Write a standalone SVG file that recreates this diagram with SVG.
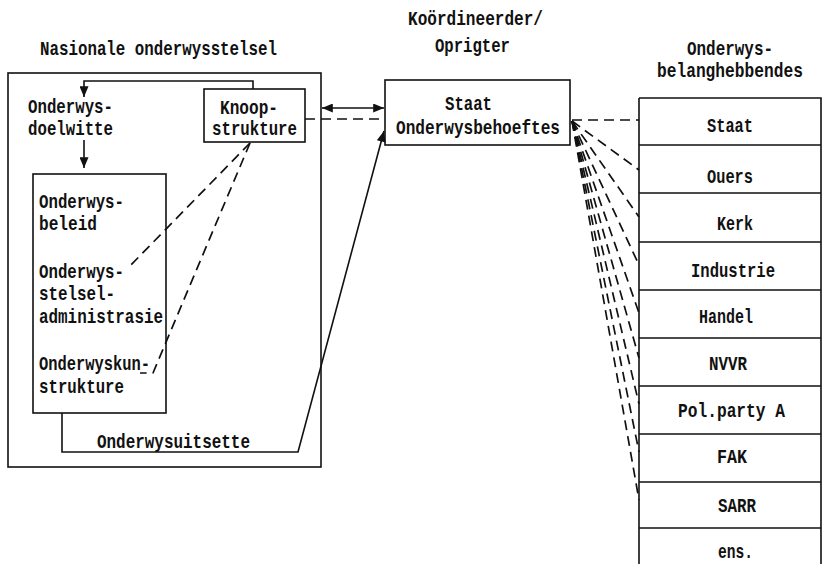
<svg xmlns="http://www.w3.org/2000/svg" width="823" height="564" viewBox="0 0 823 564">
<style>
text{font-family:"Liberation Mono","DejaVu Sans Mono",monospace;font-size:21px;font-weight:bold;fill:#111;}
.box{fill:none;stroke:#111;stroke-width:1.6;}
.ln{fill:none;stroke:#111;stroke-width:1.6;}
.dash{fill:none;stroke:#111;stroke-width:1.7;stroke-dasharray:10 6;}
</style>
<defs>
<marker id="ah" viewBox="0 0 12 10" refX="12" refY="5" markerWidth="12" markerHeight="9" markerUnits="userSpaceOnUse" orient="auto-start-reverse">
<path d="M0,0 L12,5 L0,10 z" fill="#111"/>
</marker>
</defs>
<rect width="823" height="564" fill="#fff"/>

<g id="titles">
<text x="40" y="55" textLength="237" lengthAdjust="spacingAndGlyphs">Nasionale onderwysstelsel</text>
<text x="408" y="25" textLength="135" lengthAdjust="spacingAndGlyphs">Koördineerder/</text>
<text x="435" y="52" textLength="75" lengthAdjust="spacingAndGlyphs">Oprigter</text>
<text x="687" y="55" textLength="86" lengthAdjust="spacingAndGlyphs">Onderwys-</text>
<text transform="translate(657,77) scale(0.772,1)">belanghebbendes</text>
</g>

<g id="nasionale">
<rect class="box" x="8" y="73" width="313" height="394"/>
</g>

<g id="doelwitte">
<text x="28" y="113" textLength="85" lengthAdjust="spacingAndGlyphs">Onderwys-</text>
<text x="28" y="135" textLength="85" lengthAdjust="spacingAndGlyphs">doelwitte</text>
</g>

<g id="knoop">
<rect class="box" x="204" y="89" width="101" height="53"/>
<text x="220" y="114" textLength="58" lengthAdjust="spacingAndGlyphs">Knoop-</text>
<text x="212" y="135" textLength="85" lengthAdjust="spacingAndGlyphs">strukture</text>
</g>

<g id="inner">
<rect class="box" x="33" y="174" width="133" height="239"/>
<text x="39" y="208" textLength="85" lengthAdjust="spacingAndGlyphs">Onderwys-</text>
<text x="39" y="230" textLength="58" lengthAdjust="spacingAndGlyphs">beleid</text>
<text x="39" y="278" textLength="85" lengthAdjust="spacingAndGlyphs">Onderwys-</text>
<text x="39" y="300" textLength="76" lengthAdjust="spacingAndGlyphs">stelsel-</text>
<text x="39" y="323" textLength="124" lengthAdjust="spacingAndGlyphs">administrasie</text>
<text x="39" y="370" textLength="111" lengthAdjust="spacingAndGlyphs">Onderwyskun-</text>
<text x="39" y="393" textLength="85" lengthAdjust="spacingAndGlyphs">strukture</text>
</g>

<g id="uitsette">
<text x="97" y="448" textLength="153" lengthAdjust="spacingAndGlyphs">Onderwysuitsette</text>
</g>

<g id="staat">
<rect class="box" x="385" y="80" width="185" height="65"/>
<text x="445" y="110" textLength="47" lengthAdjust="spacingAndGlyphs">Staat</text>
<text x="396" y="134" textLength="164" lengthAdjust="spacingAndGlyphs">Onderwysbehoeftes</text>
</g>

<g id="belanghebbendes">
<path class="ln" d="M639,98 H821 V564 M639,98 V564 M639,145 H821 M639,193 H821 M639,242 H821 M639,290 H821 M639,338 H821 M639,386 H821 M639,434 H821 M639,482 H821 M639,528 H821"/>
<text x="707" y="132" textLength="46" lengthAdjust="spacingAndGlyphs">Staat</text>
<text x="707" y="183" textLength="46" lengthAdjust="spacingAndGlyphs">Ouers</text>
<text x="717" y="230" textLength="36" lengthAdjust="spacingAndGlyphs">Kerk</text>
<text x="691" y="277" textLength="84" lengthAdjust="spacingAndGlyphs">Industrie</text>
<text x="699" y="323" textLength="54" lengthAdjust="spacingAndGlyphs">Handel</text>
<text x="709" y="370" textLength="38" lengthAdjust="spacingAndGlyphs">NVVR</text>
<text x="678" y="417" textLength="107" lengthAdjust="spacingAndGlyphs">Pol.party A</text>
<text x="717" y="463" textLength="30" lengthAdjust="spacingAndGlyphs">FAK</text>
<text x="718" y="512" textLength="38" lengthAdjust="spacingAndGlyphs">SARR</text>
<text x="718" y="558" textLength="35" lengthAdjust="spacingAndGlyphs">ens.</text>
</g>

<g id="connectors">
<path class="ln" d="M253,89 V81 H84 V97" marker-end="url(#ah)"/>
<path class="ln" d="M84,140 V168" marker-end="url(#ah)"/>
<path class="ln" d="M322,108 H384" marker-start="url(#ah)" marker-end="url(#ah)"/>
<path class="dash" d="M305,119 H385"/>
<path class="ln" d="M62,413 V452 H298 L384,131" marker-end="url(#ah)"/>
<path class="dash" d="M250,143 L128,268"/>
<path class="dash" d="M250,143 L153,373 H140"/>
<path class="dash" d="M572,120 H639"/>
<path class="dash" d="M572,121 L639,170"/>
<path class="dash" d="M572,121 L639,217"/>
<path class="dash" d="M572,121 L639,265"/>
<path class="dash" d="M572,121 L639,313"/>
<path class="dash" d="M572,121 L639,358"/>
<path class="dash" d="M572,121 L639,404"/>
<path class="dash" d="M572,121 L639,452"/>
<path class="dash" d="M572,121 L639,500"/>
</g>
</svg>
